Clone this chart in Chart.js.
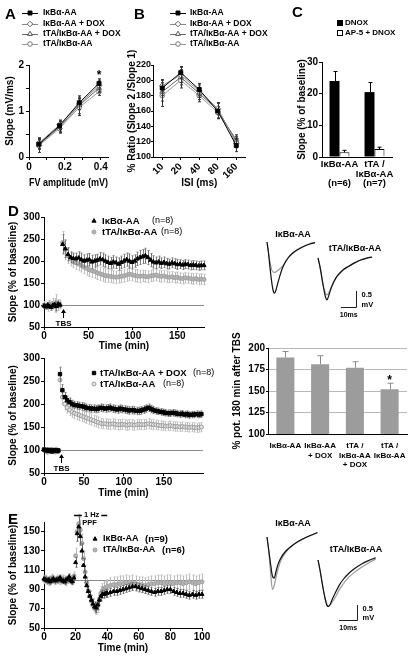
<!DOCTYPE html>
<html lang="en">
<head>
<meta charset="utf-8">
<title>IκBα-AA synaptic plasticity</title>
<script src="https://cdn.jsdelivr.net/npm/chart.js@4.4.1/dist/chart.umd.min.js"></script>
<style>
  html, body { margin: 0; padding: 0; background: #fff; }
  #page { position: relative; width: 416px; height: 658px; overflow: hidden; background: #fff; }
  #page canvas { position: absolute; left: 0; top: 0; }
  .letter { position: absolute; font: bold 15px 'Liberation Sans', Arial, sans-serif; line-height: 15px; color: #000; }
</style>
</head>
<body>
<div id="page">
  <canvas id="chartA" width="416" height="658"></canvas>
  <canvas id="chartB" width="416" height="658"></canvas>
  <canvas id="chartC" width="416" height="658"></canvas>
  <canvas id="chartD1" width="416" height="658"></canvas>
  <canvas id="chartD2" width="416" height="658"></canvas>
  <canvas id="chartDbar" width="416" height="658"></canvas>
  <canvas id="chartE" width="416" height="658"></canvas>
  <canvas id="traceD1" width="416" height="658"></canvas>
  <canvas id="traceD2" width="416" height="658"></canvas>
  <canvas id="traceE1" width="416" height="658"></canvas>
  <canvas id="traceE2" width="416" height="658"></canvas>
  <div class="letter" style="left:5px;top:6px">A</div>
  <div class="letter" style="left:134px;top:6px">B</div>
  <div class="letter" style="left:292px;top:4px">C</div>
  <div class="letter" style="left:8px;top:203px">D</div>
  <div class="letter" style="left:8px;top:511px">E</div>
</div>
<script>
// ---- Panel A : input / output ----
const fvAmplitude = [0.055, 0.17, 0.28, 0.39];
const aIkba = [0.28, 0.68, 1.18, 1.60];
const aIkbaErr = [0.10, 0.12, 0.15, 0.10];
const aIkbaDox = [0.30, 0.70, 1.15, 1.55];
const aIkbaDoxErr = [0.12, 0.10, 0.12, 0.12];
const aTtaDox = [0.27, 0.65, 1.12, 1.50];
const aTtaDoxErr = [0.10, 0.12, 0.18, 0.10];
const aTta = [0.25, 0.62, 1.08, 1.42];
const aTtaErr = [0.15, 0.10, 0.18, 0.08];
const aXTicks = [0, 0.1, 0.2, 0.3, 0.4];
const aXLabels = ['0', '', '0.2', '', '0.4'];
const aYTicks = [0, 0.5, 1, 1.5, 2];
const aYLabels = ['0', '', '1', '', '2'];

// ---- Panel B : paired pulse ----
const isiLabels = ['10', '20', '40', '80', '160'];
const bIkba = [190, 210, 188, 160, 115];
const bIkbaErr = [10, 8, 8, 10, 8];
const bIkbaDox = [193, 207, 186, 163, 118];
const bIkbaDoxErr = [8, 10, 8, 8, 6];
const bTtaDox = [185, 204, 183, 161, 121];
const bTtaDoxErr = [12, 10, 8, 10, 6];
const bTta = [180, 200, 180, 158, 123];
const bTtaErr = [14, 10, 8, 8, 6];
const bYTicks = [100, 120, 140, 160, 180, 200, 220];

// ---- Panel C : NMDA component ----
const cLabels = [['IκBα-AA', '', '(n=6)'], ['tTA /', 'IκBα-AA', '(n=7)']];
const cDnox = [24, 20.5];
const cDnoxErr = [3, 3];
const cAp5 = [1.5, 2.5];
const cAp5Err = [0.6, 0.6];
const cYTicks = [0, 10, 20, 30];

// ---- Panel D (top) : LTP, IκBα-AA vs tTA/IκBα-AA ----
const dTopTime = [0,2,4,6,8,10,12,14,16,18,
  21,24,27,30,33,36,39,42,45,48,
  51,54,57,60,63,66,69,72,75,78,
  81,84,87,90,93,96,99,102,105,108,
  111,114,117,120,123,126,129,132,135,138,
  141,144,147,150,153,156,159,162,165,168,
  171,174,177,180];
const dTopIkba = [98,96,100,97,95,99,101,97,102,100,
  238,228,215,208,206,205,207,203,200,202,
  203,198,200,202,205,203,200,197,195,198,
  196,193,197,200,203,200,197,200,205,208,
  210,212,208,202,198,196,198,195,197,194,
  193,196,194,192,193,191,193,192,190,191,
  190,189,190,190];
const dTopIkbaErr = [6,5,6,5,7,6,8,10,7,6,
  22,20,15,12,12,13,14,15,14,14,
  14,15,14,13,14,15,14,14,13,14,
  13,14,14,15,15,16,15,14,15,16,
  16,17,16,15,14,13,13,12,12,12,
  11,11,11,11,10,10,10,10,10,10,
  10,10,10,10];
const dTopTta = [100,97,95,102,98,103,99,104,100,101,
  242,225,212,205,200,196,193,190,186,183,
  180,178,176,173,171,169,167,166,165,164,
  163,164,165,166,168,170,169,167,166,165,
  166,165,164,166,167,168,166,165,166,164,
  163,164,162,163,161,160,162,161,160,159,
  160,158,159,158];
const dTopTtaErr = [8,7,9,8,10,12,15,20,12,10,
  25,22,18,16,15,15,15,15,15,15,
  15,15,15,15,15,15,15,14,14,14,
  14,14,14,14,14,14,14,14,14,14,
  13,13,13,13,13,13,13,13,13,13,
  12,12,12,12,12,12,12,12,12,12,
  12,12,12,12];

// ---- Panel D (bottom) : LTP, tTA/IκBα-AA +/- DOX ----
const dBotTime = [0,2,4,6,8,10,12,14,16,18,
  20,23,26,29,32,35,38,41,44,47,
  50,53,56,59,62,65,68,71,74,77,
  80,83,86,89,92,95,98,101,104,107,
  110,113,116,119,122,125,128,131,134,137,
  140,143,146,149,152,155,158,161,164,167,
  170,173,176,179,182,185,188,191,194,197];
const dBotTtaDox = [101,99,100,98,100,97,99,100,98,99,
  265,230,215,208,204,200,198,197,196,195,
  194,192,191,190,190,189,190,192,191,190,
  191,192,190,189,188,190,189,188,187,186,
  187,186,185,185,186,188,190,192,189,187,
  185,184,183,182,181,180,180,181,180,179,
  178,179,177,178,176,177,177,178,177,178];
const dBotTtaDoxErr = [4,4,5,4,4,5,4,4,5,4,
  15,12,10,9,9,8,8,8,8,8,
  8,8,8,8,8,8,8,8,8,8,
  8,8,8,8,8,8,8,8,8,8,
  8,8,8,8,8,8,8,8,8,8,
  7,7,7,7,7,7,7,7,7,7,
  7,7,7,7,7,7,7,7,7,7];
const dBotTta = [100,98,96,99,97,100,98,96,99,97,
  252,215,200,192,187,183,180,178,176,174,
  172,170,168,166,164,162,160,158,157,157,
  156,156,157,156,155,155,156,155,154,155,
  155,154,155,156,155,155,156,157,156,155,
  155,154,153,153,152,152,153,152,151,151,
  150,151,150,150,149,150,149,148,149,150];
const dBotTtaErr = [5,5,6,5,5,6,5,5,6,5,
  16,14,13,12,12,12,12,12,12,12,
  12,12,12,12,12,12,12,11,11,11,
  11,11,11,11,11,11,11,11,11,11,
  11,11,11,11,11,11,11,11,11,11,
  10,10,10,10,10,10,10,10,10,10,
  10,10,10,10,10,10,10,10,10,10];
const dYTicks = [50, 100, 150, 200, 250, 300];
const dXTicks = [0, 50, 100, 150];

// ---- Panel D (right) : potentiation 180 min after TBS ----
const dBarLabels = [['IκBα-AA'], ['IκBα-AA', '+ DOX'], ['tTA /', 'IκBα-AA', '+ DOX'], ['tTA /', 'IκBα-AA']];
const dBarValues = [189, 181, 177, 152];
const dBarErr = [7, 10, 7, 7];
const dBarYTicks = [100, 125, 150, 175, 200];

// ---- Panel E : 1 Hz PPF ----
const eTime = [0,1,2,3,4,5,6,7,8,9,10,11,12,13,14,15,16,17,18,19,
  20,21,22,23,24,25,26,27,28,29,30,31,32,33,34,35,36,37,38,39,40,
  42,44,46,48,50,52,54,56,58,60,62,64,66,68,70,72,74,76,78,80,
  82,84,86,88,90,92,94,96,98,100];
const eIkba = [101,100,99,100,98,100,101,99,100,100,
  102,100,99,98,100,101,103,99,98,102,
  118,148,155,145,130,115,103,94,88,83,
  79,75,72,71,74,79,83,85,85,86,
  86,
  87,88,88,89,90,91,92,93,93,92,
  91,90,89,88,87,88,88,89,90,90,
  88,87,86,86,85,84,85,84,85,85];
const eIkbaErr = [3,3,3,3,3,3,3,3,3,3,3,3,3,3,3,3,3,3,3,3,
  5,8,10,9,8,7,6,5,5,5,
  5,5,5,5,5,5,5,4,4,4,
  4,
  4,4,4,4,4,4,4,4,4,4,
  4,4,4,4,4,4,4,4,4,4,
  4,4,4,4,4,4,4,4,4,4];
const eTta = [100,101,99,98,100,102,100,99,101,100,
  99,100,101,100,98,100,102,100,99,104,
  125,150,158,152,138,122,108,97,89,83,
  78,74,71,70,73,80,86,89,91,92,
  93,
  94,95,95,96,96,97,96,97,96,95,
  95,94,95,96,96,97,97,96,97,97,
  96,97,97,96,97,98,97,96,97,98];
const eTtaErr = [4,4,4,4,4,4,4,4,4,4,4,4,4,4,4,4,4,4,4,4,
  8,10,10,10,9,8,7,6,6,6,
  6,6,6,6,7,7,7,7,7,7,
  7,
  8,8,8,8,8,8,8,8,8,8,
  8,8,8,8,8,8,8,8,8,8,
  8,8,8,8,8,8,8,8,8,8];
const eYTicks = [50, 70, 90, 110, 130, 150];
const eXTicks = [0, 20, 40, 60, 80, 100];

// ---- Example field EPSP traces (ms / mV) ----
const traceMs = [0, 1, 2, 3, 4, 5, 6, 7, 8, 10, 12, 14, 17, 20, 24, 28, 32, 36];
const trD1Black = [0, -0.35, -0.8, -1.2, -1.5, -1.6, -1.5, -1.32, -1.15, -0.85, -0.65, -0.5, -0.35, -0.25, -0.15, -0.07, -0.02];
const trD1Gray = [0, -0.32, -0.62, -0.85, -0.94, -0.95, -0.93, -0.9, -0.86, -0.78, -0.64, -0.5, -0.35, -0.25, -0.15, -0.07, -0.02];
const trD2Black = [0, -0.2, -0.45, -0.75, -1.0, -1.22, -1.31, -1.2, -1.05, -0.8, -0.62, -0.5, -0.36, -0.27, -0.16, -0.07, -0.01, 0.03];
const trD2Gray = [0, -0.2, -0.45, -0.72, -0.95, -1.1, -1.15, -1.1, -1.0, -0.8, -0.62, -0.5, -0.36, -0.27, -0.16, -0.07, -0.01, 0.03];
const trE1Black = [0, -0.45, -0.9, -1.3, -1.37, -1.15, -0.93, -0.78, -0.67, -0.5, -0.38, -0.28, -0.16, -0.06, 0.05, 0.15];
const trE1Gray = [0, -0.5, -1.2, -1.75, -1.62, -1.35, -1.1, -0.9, -0.75, -0.55, -0.4, -0.29, -0.17, -0.07, 0.04, 0.14];
const trE2Black = [0, -0.3, -0.65, -1.0, -1.3, -1.52, -1.55, -1.45, -1.3, -1.05, -0.82, -0.65, -0.45, -0.3, -0.14, -0.02, 0.07];
const trE2Gray = [0, -0.3, -0.65, -1.0, -1.28, -1.48, -1.52, -1.48, -1.4, -1.2, -0.97, -0.8, -0.58, -0.42, -0.25, -0.1, 0.03];

const PAGE_W = 416, PAGE_H = 658;
const FONT = "'Liberation Sans', Arial, sans-serif";

Chart.defaults.font.family = FONT;
Chart.defaults.font.size = 10;
Chart.defaults.font.weight = 'bold';
Chart.defaults.color = '#000';
Chart.defaults.animation = false;
Chart.defaults.responsive = false;
Chart.defaults.plugins.legend.display = false;
Chart.defaults.plugins.tooltip.enabled = false;

// error bars drawn under each dataset
const errorBars = {
  id: 'errorBars',
  beforeDatasetDraw(chart, args) {
    const ds = chart.data.datasets[args.index];
    if (!ds.errors) return;
    const meta = args.meta;
    const yScale = chart.scales[meta.yAxisID];
    const ctx = chart.ctx;
    const cap = ds.errorCap !== undefined ? ds.errorCap : 2;
    ctx.save();
    ctx.strokeStyle = ds.errorColor || '#000';
    ctx.lineWidth = 1;
    meta.data.forEach((el, i) => {
      const raw = ds.data[i];
      const v = typeof raw === 'object' ? raw.y : raw;
      const e = ds.errors[i];
      if (v === null || v === undefined || !e) return;
      const x = Math.round(el.x) + 0.5;
      const yTop = yScale.getPixelForValue(v + e);
      const yBot = ds.errorMode === 'up' ? yScale.getPixelForValue(v) : yScale.getPixelForValue(v - e);
      ctx.beginPath();
      ctx.moveTo(x, yTop);
      ctx.lineTo(x, yBot);
      if (cap > 0) {
        ctx.moveTo(x - cap, yTop);
        ctx.lineTo(x + cap, yTop);
        if (ds.errorMode !== 'up') {
          ctx.moveTo(x - cap, yBot);
          ctx.lineTo(x + cap, yBot);
        }
      }
      ctx.stroke();
    });
    ctx.restore();
  }
};

function drawSymbol(ctx, ds, x, y) {
  ctx.fillStyle = ds.pointBackgroundColor || ds.backgroundColor;
  ctx.strokeStyle = ds.pointBorderColor || ds.borderColor;
  ctx.lineWidth = 1;
  Chart.helpers.drawPoint(ctx, { pointStyle: ds.pointStyle, radius: ds.pointRadius, rotation: 0, borderWidth: 1 }, x, y);
}

// legends placed freely on the page
const panelLegend = {
  id: 'panelLegend',
  afterDraw(chart, args, opts) {
    if (!opts.rows) return;
    const ctx = chart.ctx;
    ctx.save();
    ctx.textBaseline = 'middle';
    ctx.textAlign = 'left';
    chart.data.datasets.forEach((ds, i) => {
      if (!ds.label) return;
      const y = opts.rows[i];
      if (opts.line) {
        ctx.strokeStyle = ds.borderColor;
        ctx.lineWidth = 1;
        ctx.beginPath();
        ctx.moveTo(opts.symX - opts.line, Math.round(y) + 0.5);
        ctx.lineTo(opts.symX + opts.line, Math.round(y) + 0.5);
        ctx.stroke();
      }
      if (opts.box) {
        ctx.fillStyle = ds.backgroundColor;
        ctx.strokeStyle = '#000';
        ctx.lineWidth = 1;
        ctx.fillRect(opts.symX - 2.5, y - 2.5, 5, 5);
        ctx.strokeRect(opts.symX - 2.5, y - 2.5, 5, 5);
      } else {
        drawSymbol(ctx, ds, opts.symX, y);
      }
      ctx.fillStyle = '#000';
      ctx.font = 'bold ' + opts.textSize + 'px ' + FONT;
      ctx.fillText(ds.label, opts.textX, y);
      if (ds.n && opts.nX) {
        ctx.font = opts.nWeight + ' ' + opts.nSize + 'px ' + FONT;
        ctx.fillText(ds.n, opts.nX[i], y);
      }
    });
    ctx.restore();
  }
};

// reference line, TBS arrow, stimulation bar, stars, labels, scale bars
const marks = {
  id: 'marks',
  beforeDatasetsDraw(chart, args, opts) {
    if (opts.refLine === undefined) return;
    const ctx = chart.ctx, area = chart.chartArea;
    const y = Math.round(chart.scales.y.getPixelForValue(opts.refLine)) + 0.5;
    ctx.save();
    ctx.strokeStyle = '#8a8a8a';
    ctx.lineWidth = 1;
    ctx.beginPath();
    ctx.moveTo(area.left, y);
    ctx.lineTo(area.right, y);
    ctx.stroke();
    ctx.restore();
  },
  afterDatasetsDraw(chart, args, opts) {
    const ctx = chart.ctx, xs = chart.scales.x, ys = chart.scales.y;
    ctx.save();
    ctx.fillStyle = '#000';
    ctx.strokeStyle = '#000';
    ctx.lineWidth = 1;
    ctx.textAlign = 'center';
    ctx.textBaseline = 'middle';
    if (opts.arrow) {
      const x = Math.round(xs.getPixelForValue(opts.arrow.at)) + 0.5;
      const ref = ys.getPixelForValue(opts.refLine);
      const tip = ref + 4;
      ctx.beginPath();
      ctx.moveTo(x, ref + 13);
      ctx.lineTo(x, tip + 3);
      ctx.stroke();
      ctx.beginPath();
      ctx.moveTo(x, tip);
      ctx.lineTo(x - 2.5, tip + 4);
      ctx.lineTo(x + 2.5, tip + 4);
      ctx.closePath();
      ctx.fill();
      ctx.font = 'bold 8px ' + FONT;
      ctx.fillText(opts.arrow.text, x, ref + 18.5);
    }
    if (opts.stim) {
      const x0 = xs.getPixelForValue(opts.stim.from);
      const x1 = xs.getPixelForValue(opts.stim.to);
      const mid = (x0 + x1) / 2 + 1;
      const y = chart.chartArea.top - 6.5;
      ctx.font = 'bold 7.5px ' + FONT;
      const w = ctx.measureText(opts.stim.top).width;
      ctx.lineWidth = 1.3;
      ctx.beginPath();
      ctx.moveTo(x0, y);
      ctx.lineTo(mid - w / 2 - 2, y);
      ctx.moveTo(mid + w / 2 + 2, y);
      ctx.lineTo(x1, y);
      ctx.stroke();
      ctx.fillText(opts.stim.top, mid, y - 1);
      ctx.fillText(opts.stim.bottom, mid - 2, y + 7);
    }
    if (opts.stars) {
      ctx.font = 'bold 12px ' + FONT;
      opts.stars.forEach(s => {
        ctx.fillText('*', xs.getPixelForValue(s.x), ys.getPixelForValue(s.y) + 3);
      });
    }
    if (opts.texts) {
      opts.texts.forEach(t => {
        ctx.font = 'bold ' + t.size + 'px ' + FONT;
        ctx.fillText(t.text, t.x, t.y);
      });
    }
    if (opts.scaleBar) {
      const sb = opts.scaleBar;
      const cx = Math.round(xs.getPixelForValue(sb.x)) + 0.5;
      const cy = Math.round(ys.getPixelForValue(sb.y)) + 0.5;
      const lx = xs.getPixelForValue(sb.x - sb.ms);
      const ty = ys.getPixelForValue(sb.y + sb.mV);
      ctx.strokeStyle = '#222';
      ctx.beginPath();
      ctx.moveTo(lx, cy);
      ctx.lineTo(cx, cy);
      ctx.lineTo(cx, ty);
      ctx.stroke();
      ctx.font = 'bold 7.5px ' + FONT;
      ctx.textAlign = 'left';
      ctx.fillText(sb.vText, cx + 5, ty + 4);
      ctx.fillText(sb.unitText, cx + 5, cy - 3);
      ctx.textAlign = 'center';
      ctx.font = 'bold 7px ' + FONT;
      ctx.fillText(sb.hText, (lx + cx) / 2, cy + 8);
    }
    ctx.restore();
  }
};

Chart.register(errorBars, panelLegend, marks);

// fix the axis thickness so that the plot area lands where we want it
function fitSize(size, horizontal) {
  return function (scale) {
    if (horizontal) scale.height = size; else scale.width = size;
    scale.paddingLeft = 0;
    scale.paddingRight = 0;
    scale.paddingTop = 0;
    scale.paddingBottom = 0;
  };
}

function areaPadding(a) {
  return { left: a.left - a.yW, top: a.top, right: PAGE_W - a.right, bottom: PAGE_H - a.bottom - a.xH };
}

function axisTitle(text, pad) {
  if (!text) return { display: false };
  return { display: true, text: text, padding: { top: pad || 0, bottom: pad || 0 } };
}

function numAxis(o) {
  return {
    type: 'linear',
    position: o.position,
    min: o.min,
    max: o.max,
    afterBuildTicks: s => { s.ticks = o.ticks.map(v => ({ value: v })); },
    afterFit: fitSize(o.size, o.position === 'bottom'),
    ticks: {
      autoSkip: false, maxRotation: 0, minRotation: 0,
      padding: o.pad !== undefined ? o.pad : 2,
      font: o.font,
      callback: (v, i) => (o.labels ? o.labels[i] : String(v))
    },
    grid: {
      drawOnChartArea: !!o.gridColor,
      color: o.gridColor || '#000',
      tickColor: '#000',
      tickLength: o.tick !== undefined ? o.tick : 3
    },
    border: { color: '#000' },
    title: axisTitle(o.title, o.titlePad)
  };
}

function catAxis(o) {
  return {
    type: 'category',
    offset: true,
    afterFit: fitSize(o.size, true),
    ticks: {
      autoSkip: false,
      padding: o.pad !== undefined ? o.pad : 2,
      maxRotation: o.rot || 0,
      minRotation: o.rot || 0,
      font: o.font
    },
    grid: { display: !!o.tickMarks, drawOnChartArea: false, offset: false, color: '#000', tickLength: 3 },
    border: { color: '#000' },
    title: axisTitle(o.title, o.titlePad)
  };
}

function xy(xs, ys) {
  return ys.map((y, i) => ({ x: xs[i], y: y }));
}

// A and B share the same four genotypes / markers
const lineStyles = [
  { pointStyle: 'rect', pointRadius: 2.8, pointBackgroundColor: '#000', pointBorderColor: '#000', borderColor: '#000' },
  { pointStyle: 'rectRot', pointRadius: 2.8, pointBackgroundColor: '#fff', pointBorderColor: '#666', borderColor: '#888' },
  { pointStyle: 'triangle', pointRadius: 2.8, pointBackgroundColor: '#fff', pointBorderColor: '#555', borderColor: '#666' },
  { pointStyle: 'circle', pointRadius: 2.3, pointBackgroundColor: '#fff', pointBorderColor: '#777', borderColor: '#999' }
];
const genotypeNames = ['IκBα-AA', 'IκBα-AA + DOX', 'tTA/IκBα-AA + DOX', 'tTA/IκBα-AA'];

function lineSet(i, data, errs) {
  return Object.assign({
    label: genotypeNames[i], data: data, errors: errs, errorColor: '#333', errorCap: 1.5,
    borderWidth: 1, pointBorderWidth: 1, tension: 0, clip: false
  }, lineStyles[i]);
}

// Panel A
new Chart(document.getElementById('chartA'), {
  type: 'line',
  data: {
    datasets: [
      lineSet(0, xy(fvAmplitude, aIkba), aIkbaErr),
      lineSet(1, xy(fvAmplitude, aIkbaDox), aIkbaDoxErr),
      lineSet(2, xy(fvAmplitude, aTtaDox), aTtaDoxErr),
      lineSet(3, xy(fvAmplitude, aTta), aTtaErr)
    ]
  },
  options: {
    events: [],
    layout: { padding: areaPadding({ left: 29, top: 65, right: 108, bottom: 157, yW: 29, xH: 32 }) },
    scales: {
      x: numAxis({ position: 'bottom', min: 0, max: 0.44, ticks: aXTicks, labels: aXLabels, size: 32, pad: 1, title: 'FV amplitude (mV)' }),
      y: numAxis({ position: 'left', min: 0, max: 2, ticks: aYTicks, labels: aYLabels, size: 29, pad: 2, title: 'Slope (mV/ms)', titlePad: 4 })
    },
    plugins: {
      panelLegend: { rows: [13, 24, 34, 44], symX: 30, line: 8, textX: 43, textSize: 8.5 },
      marks: { stars: [{ x: 0.39, y: 1.83 }] }
    }
  }
});

// Panel B
new Chart(document.getElementById('chartB'), {
  type: 'line',
  data: {
    labels: isiLabels,
    datasets: [
      lineSet(0, bIkba, bIkbaErr),
      lineSet(1, bIkbaDox, bIkbaDoxErr),
      lineSet(2, bTtaDox, bTtaDoxErr),
      lineSet(3, bTta, bTtaErr)
    ]
  },
  options: {
    events: [],
    layout: { padding: areaPadding({ left: 153, top: 65, right: 245.5, bottom: 157, yW: 27, xH: 32 }) },
    scales: {
      x: catAxis({ size: 32, pad: 1, rot: 45, tickMarks: true, title: 'ISI (ms)' }),
      y: numAxis({ position: 'left', min: 100, max: 220, ticks: bYTicks, size: 27, pad: 0, tick: 2, font: { size: 9 }, title: '% Ratio (Slope 2 /Slope 1)', titlePad: 0 })
    },
    plugins: {
      panelLegend: { rows: [13, 24, 34, 44], symX: 178, line: 8, textX: 190, textSize: 8.5 }
    }
  }
});

// Panel C
new Chart(document.getElementById('chartC'), {
  type: 'bar',
  data: {
    labels: cLabels,
    datasets: [
      { label: 'DNOX', data: cDnox, errors: cDnoxErr, errorMode: 'up', errorCap: 2, backgroundColor: '#000', borderColor: '#000', borderWidth: 0, categoryPercentage: 0.57, barPercentage: 1 },
      { label: 'AP-5 + DNOX', data: cAp5, errors: cAp5Err, errorMode: 'up', errorCap: 2, backgroundColor: '#fff', borderColor: '#000', borderWidth: 1, categoryPercentage: 0.57, barPercentage: 1 }
    ]
  },
  options: {
    events: [],
    layout: { padding: areaPadding({ left: 322, top: 62, right: 392, bottom: 157, yW: 28, xH: 40 }) },
    scales: {
      x: catAxis({ size: 40, pad: 0, font: { size: 9.5, lineHeight: 1 } }),
      y: numAxis({ position: 'left', min: 0, max: 30, ticks: cYTicks, size: 28, pad: 1, title: 'Slope (% of baseline)', titlePad: 2 })
    },
    plugins: {
      panelLegend: { rows: [23, 33], symX: 340, box: true, textX: 345, textSize: 8 }
    }
  }
});

// time course charts (D top, D bottom, E)
function timeSet(label, n, xs, ys, errs, style) {
  return Object.assign({
    label: label, n: n, data: xy(xs, ys), errors: errs, errorCap: 1,
    showLine: false, pointBorderWidth: 1, clip: false
  }, style);
}

new Chart(document.getElementById('chartD1'), {
  type: 'line',
  data: {
    datasets: [
      timeSet('IκBα-AA', '(n=8)', dTopTime, dTopIkba, dTopIkbaErr,
        { pointStyle: 'triangle', pointRadius: 2.4, pointBackgroundColor: '#000', pointBorderColor: '#000', borderColor: '#000', errorColor: '#7a7a7a' }),
      timeSet('tTA/IκBα-AA', '(n=8)', dTopTime, dTopTta, dTopTtaErr,
        { pointStyle: 'circle', pointRadius: 2, pointBackgroundColor: '#b4b4b4', pointBorderColor: '#a0a0a0', borderColor: '#a0a0a0', errorColor: '#bdbdbd' })
    ]
  },
  options: {
    events: [],
    layout: { padding: areaPadding({ left: 44, top: 217, right: 204, bottom: 327, yW: 44, xH: 25 }) },
    scales: {
      x: numAxis({ position: 'bottom', min: 0, max: 180, ticks: dXTicks, size: 25, pad: 0, title: 'Time (min)' }),
      y: numAxis({ position: 'left', min: 50, max: 300, ticks: dYTicks, size: 44, pad: 1, title: 'Slope (% of baseline)', titlePad: 7 })
    },
    plugins: {
      panelLegend: { rows: [221, 232], symX: 94, textX: 102, textSize: 9.5, nX: [152, 161], nSize: 9, nWeight: 'normal' },
      marks: { refLine: 100, arrow: { at: 21, text: 'TBS' } }
    }
  }
});

new Chart(document.getElementById('chartD2'), {
  type: 'line',
  data: {
    datasets: [
      timeSet('tTA/IκBα-AA + DOX', '(n=8)', dBotTime, dBotTtaDox, dBotTtaDoxErr,
        { pointStyle: 'rect', pointRadius: 2.4, pointBackgroundColor: '#000', pointBorderColor: '#000', borderColor: '#000', errorColor: '#7a7a7a' }),
      timeSet('tTA/IκBα-AA', '(n=8)', dBotTime, dBotTta, dBotTtaErr,
        { pointStyle: 'circle', pointRadius: 2, pointBackgroundColor: '#e6e6e6', pointBorderColor: '#999', borderColor: '#999', errorColor: '#c4c4c4' })
    ]
  },
  options: {
    events: [],
    layout: { padding: areaPadding({ left: 44, top: 358, right: 203, bottom: 473, yW: 44, xH: 26 }) },
    scales: {
      x: numAxis({ position: 'bottom', min: 0, max: 199, ticks: dXTicks, size: 26, pad: 0, title: 'Time (min)' }),
      y: numAxis({ position: 'left', min: 50, max: 300, ticks: dYTicks, size: 44, pad: 1, title: 'Slope (% of baseline)', titlePad: 7 })
    },
    plugins: {
      panelLegend: { rows: [373, 384], symX: 94, textX: 100, textSize: 9.5, nX: [193, 163], nSize: 9, nWeight: 'normal' },
      marks: { refLine: 100, arrow: { at: 21, text: 'TBS' } }
    }
  }
});

// Panel D right: bars
new Chart(document.getElementById('chartDbar'), {
  type: 'bar',
  data: {
    labels: dBarLabels,
    datasets: [
      { data: dBarValues, errors: dBarErr, errorMode: 'up', errorCap: 3, errorColor: '#8a8a8a', backgroundColor: '#9c9c9c', borderWidth: 0, categoryPercentage: 1, barPercentage: 0.52 }
    ]
  },
  options: {
    events: [],
    layout: { padding: areaPadding({ left: 268, top: 348, right: 407, bottom: 434, yW: 39, xH: 42 }) },
    scales: {
      x: catAxis({ size: 42, pad: 4, font: { size: 8, lineHeight: 1.2 } }),
      y: numAxis({ position: 'left', min: 100, max: 200, ticks: dBarYTicks, size: 39, pad: 1, tick: 2, gridColor: '#b8b8b8', title: '% pot. 180 min after TBS', titlePad: 2 })
    },
    plugins: {
      marks: { stars: [{ x: 3, y: 165 }] }
    }
  }
});

// Panel E
new Chart(document.getElementById('chartE'), {
  type: 'line',
  data: {
    datasets: [
      timeSet('IκBα-AA', '(n=9)', eTime, eIkba, eIkbaErr,
        { pointStyle: 'triangle', pointRadius: 2.3, pointBackgroundColor: '#000', pointBorderColor: '#000', borderColor: '#000', errorColor: '#6a6a6a' }),
      timeSet('tTA/IκBα-AA', '(n=6)', eTime, eTta, eTtaErr,
        { pointStyle: 'circle', pointRadius: 2, pointBackgroundColor: '#b4b4b4', pointBorderColor: '#a0a0a0', borderColor: '#a0a0a0', errorColor: '#bdbdbd' })
    ]
  },
  options: {
    events: [],
    layout: { padding: areaPadding({ left: 44, top: 522, right: 202, bottom: 628, yW: 44, xH: 26 }) },
    scales: {
      x: numAxis({ position: 'bottom', min: 0, max: 100, ticks: eXTicks, size: 26, pad: 0, title: 'Time (min)' }),
      y: numAxis({ position: 'left', min: 50, max: 160, ticks: eYTicks, size: 44, pad: 1, title: 'Slope (% of baseline)', titlePad: 7 })
    },
    plugins: {
      panelLegend: { rows: [539, 550], symX: 95, textX: 103, textSize: 9, nX: [145, 162], nSize: 9.5, nWeight: 'bold' },
      marks: { refLine: 100, stim: { from: 19, to: 40, top: '1 Hz', bottom: 'PPF' } }
    }
  }
});

// example traces: black = before, gray = after
function traceChart(id, black, gray, area, xMax, yMin, yMax, extra) {
  const trace = (vals, color) => ({
    data: xy(traceMs, vals), borderColor: color, borderWidth: 1.2, pointRadius: 0,
    cubicInterpolationMode: 'monotone', clip: false
  });
  return new Chart(document.getElementById(id), {
    type: 'line',
    data: { datasets: [trace(black, '#111'), trace(gray, '#9a9a9a')] },
    options: {
      events: [],
      layout: { padding: { left: area.left, top: area.top, right: PAGE_W - area.right, bottom: PAGE_H - area.bottom } },
      scales: {
        x: { type: 'linear', display: false, min: 0, max: xMax },
        y: { type: 'linear', display: false, min: yMin, max: yMax }
      },
      plugins: { marks: extra }
    }
  });
}

traceChart('traceD1', trD1Black, trD1Gray, { left: 267, top: 238.8, right: 316.5, bottom: 296.4 }, 33, -1.7, 0.1,
  { texts: [{ text: 'IκBα-AA', x: 293, y: 235, size: 9 }] });
traceChart('traceD2', trD2Black, trD2Gray, { left: 318, top: 254.8, right: 373.5, bottom: 302.8 }, 37, -1.4, 0.1,
  { texts: [{ text: 'tTA/IκBα-AA', x: 355, y: 249, size: 9 }],
    scaleBar: { x: 25.3, y: -1.53, ms: 10, mV: 0.5, vText: '0.5', unitText: 'mV', hText: '10ms' } });
traceChart('traceE1', trE1Black, trE1Gray, { left: 267, top: 528, right: 321, bottom: 594 }, 30, -1.9, 0.3,
  { texts: [{ text: 'IκBα-AA', x: 293, y: 524, size: 9 }] });
traceChart('traceE2', trE2Black, trE2Gray, { left: 318, top: 551, right: 377.4, bottom: 611 }, 33, -1.7, 0.3,
  { texts: [{ text: 'tTA/IκBα-AA', x: 356, y: 550, size: 9 }],
    scaleBar: { x: 21.7, y: -2.0, ms: 10, mV: 0.5, vText: '0.5', unitText: 'mV', hText: '10ms' } });
</script>
</body>
</html>
